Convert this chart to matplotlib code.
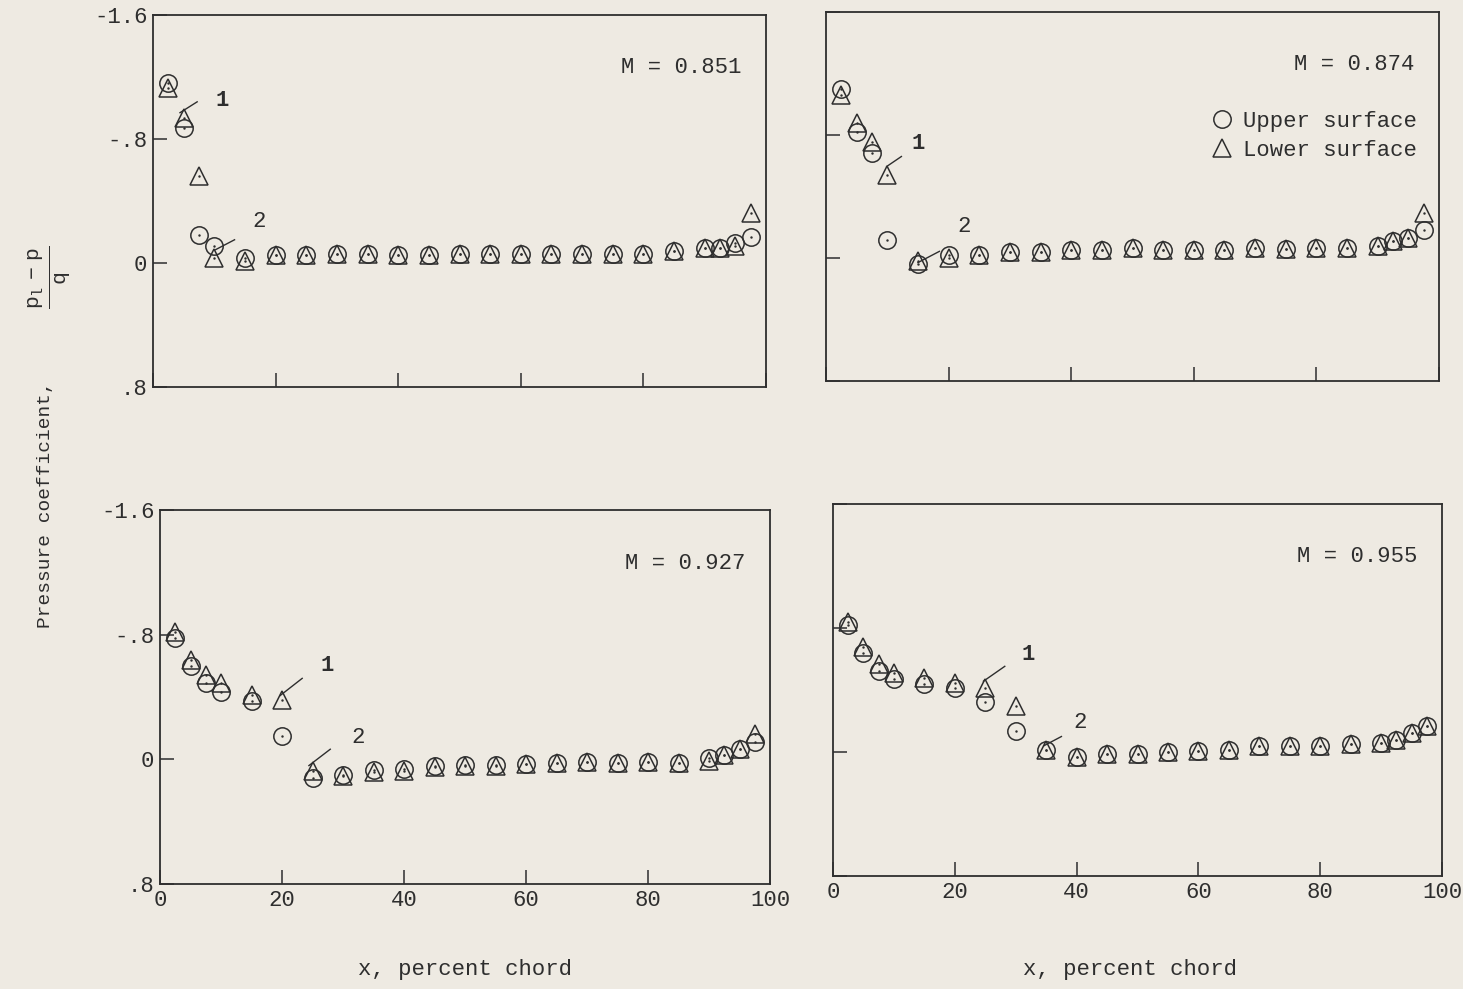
import numpy as np
import matplotlib.pyplot as plt

plt.rcParams['font.family'] = ['Liberation Mono', 'DejaVu Sans Mono']
plt.rcParams['mathtext.fontset'] = 'custom'
plt.rcParams['mathtext.rm'] = 'Liberation Mono'
plt.rcParams['mathtext.it'] = 'Liberation Mono'

bg = '#eeeae2'
ink = '#2e2e2e'

x = [2.5, 5, 7.5, 10, 15, 20, 25, 30, 35, 40, 45, 50, 55, 60, 65, 70, 75,
     80, 85, 90, 92.5, 95, 97.5]

mach = ['0.851', '0.874', '0.927', '0.955']

upper_851 = [-1.16, -0.87, -0.18, -0.11, -0.03, -0.05, -0.05, -0.06, -0.06, -0.05, -0.05, -0.06,
             -0.06, -0.06, -0.06, -0.06, -0.06, -0.06, -0.075, -0.10, -0.10, -0.13, -0.17]
lower_851 = [-1.13, -0.935, -0.56, -0.03, -0.01, -0.05, -0.05, -0.06, -0.06, -0.05, -0.05, -0.06,
             -0.06, -0.06, -0.06, -0.06, -0.06, -0.06, -0.075, -0.10, -0.10, -0.11, -0.32]

upper_874 = [-1.10, -0.82, -0.68, -0.12, 0.04, -0.02, -0.02, -0.04, -0.04, -0.05, -0.05, -0.065,
             -0.055, -0.05, -0.05, -0.065, -0.06, -0.065, -0.065, -0.075, -0.11, -0.13, -0.18]
lower_874 = [-1.06, -0.875, -0.757, -0.54, 0.02, 0.0, -0.02, -0.04, -0.04, -0.05, -0.05, -0.065,
             -0.055, -0.05, -0.05, -0.065, -0.06, -0.065, -0.065, -0.075, -0.11, -0.13, -0.29]

upper_927 = [-0.78, -0.60, -0.49, -0.435, -0.375, -0.148, 0.12, 0.10, 0.07, 0.065, 0.04, 0.035,
             0.035, 0.03, 0.025, 0.02, 0.025, 0.02, 0.025, -0.01, -0.03, -0.065, -0.11]
lower_927 = [-0.815, -0.64, -0.54, -0.49, -0.41, -0.38, 0.076, 0.109, 0.08, 0.075, 0.05, 0.04,
             0.04, 0.03, 0.025, 0.02, 0.025, 0.02, 0.025, 0.01, -0.03, -0.065, -0.16]

upper_955 = [-0.82, -0.64, -0.52, -0.47, -0.44, -0.41, -0.32, -0.135, -0.01, 0.035, 0.015, 0.01,
             0.0, -0.005, -0.015, -0.04, -0.04, -0.04, -0.05, -0.06, -0.08, -0.12, -0.17]
lower_955 = [-0.84, -0.68, -0.565, -0.51, -0.48, -0.446, -0.41, -0.30, -0.01, 0.035, 0.015, 0.01,
             0.0, -0.005, -0.015, -0.04, -0.04, -0.04, -0.05, -0.06, -0.08, -0.12, -0.17]

uppers = [upper_851, upper_874, upper_927, upper_955]
lowers = [lower_851, lower_874, lower_927, lower_955]

# callouts "1" and "2": (text x, text y, line x0, y0, x1, y1)
note1 = [(11.3, -1.05, 4.4, -0.97, 7.2, -1.04),
         (15.0, -0.745, 9.9, -0.595, 12.3, -0.66),
         (27.4, -0.60, 19.7, -0.41, 23.3, -0.52),
         (32.0, -0.63, 24.7, -0.457, 28.2, -0.553)]
note2 = [(17.3, -0.27, 10.2, -0.086, 13.3, -0.15),
         (22.6, -0.205, 15.0, 0.03, 18.5, -0.043),
         (32.5, -0.14, 24.4, 0.04, 27.9, -0.065),
         (40.6, -0.19, 34.6, -0.04, 37.5, -0.10)]

boxes = [[0.1046, 0.6087, 0.419, 0.3761],
         [0.5646, 0.6148, 0.419, 0.3731],
         [0.1094, 0.1062, 0.417, 0.378],
         [0.5694, 0.1143, 0.4163, 0.376]]

fig = plt.figure(figsize=(14.63, 9.89), dpi=100, facecolor=bg)

for i in range(4):
    ax = fig.add_axes(boxes[i], facecolor=bg)
    ax.plot(x, uppers[i], 'o', ms=12.5, mfc='none', mec=ink, mew=1.1, label='Upper surface')
    ax.plot(x, lowers[i], '^', ms=12.5, mfc='none', mec=ink, mew=1.1, label='Lower surface')
    ax.plot(x, uppers[i], '.', ms=1.5, color=ink)
    ax.plot(x, lowers[i], '.', ms=1.5, color=ink)
    ax.set_xlim(0, 100)
    ax.set_ylim(0.8, -1.6)
    ax.set_xticks([0, 20, 40, 60, 80, 100])
    ax.set_yticks([-1.6, -0.8, 0, 0.8])
    ax.tick_params(direction='in', length=10, width=1.1, color=ink, labelcolor=ink,
                   labelsize=16, pad=4)
    for s in ax.spines.values():
        s.set_color(ink)
        s.set_linewidth(1.3)
    if i % 2 == 0:
        ax.set_yticklabels(['-1.6', '-.8', '0', '.8'])
    else:
        ax.set_yticklabels([])
    if i >= 2:
        ax.set_xticklabels(['0', '20', '40', '60', '80', '100'])
    else:
        ax.set_xticklabels([])
    ax.text(96, -1.26, 'M = ' + mach[i], ha='right', va='center', fontsize=16,
            color=ink)
    for n, t in (('1', note1[i]), ('2', note2[i])):
        ax.plot([t[2], t[4]], [t[3], t[5]], color=ink, lw=1.0)
        ax.text(t[0], t[1], n, ha='center', va='center', fontsize=16, color=ink,
                fontweight='bold' if n == '1' else 'normal')
    if i == 1:
        ax.legend(loc='upper right', bbox_to_anchor=(0.978, 0.755), frameon=False,
                  fontsize=16, handletextpad=0.45, labelspacing=0.35, handlelength=1.0,
                  borderaxespad=0, labelcolor=ink)

fig.text(465 / 1463, 1 - 970 / 989, 'x, percent chord', ha='center', va='center',
         fontsize=16, color=ink)
fig.text(1130 / 1463, 1 - 970 / 989, 'x, percent chord', ha='center', va='center',
         fontsize=16, color=ink)
fig.text(0.031, 0.49, 'Pressure coefficient,', rotation=90, ha='center', va='center',
         fontsize=14, color=ink)
fig.text(0.034, 0.72, r'$\frac{p_l\ -\ p}{q}$', rotation=90, ha='center', va='center',
         fontsize=22, color=ink)

fig.savefig('out.png', dpi=100, facecolor=bg)
